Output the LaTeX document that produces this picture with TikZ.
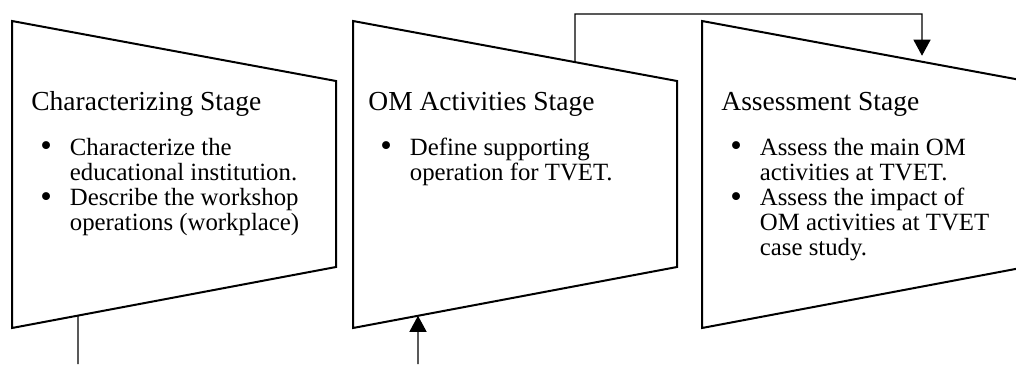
\documentclass[tikz,border=0pt]{standalone}
\usepackage{fontspec}
\setmainfont{Liberation Serif}
\usetikzlibrary{arrows.meta,calc}
\newcommand{\stbullet}{\raisebox{-0.9pt}{\fontsize{16.5}{12}\selectfont\textbullet}}
\begin{document}
\begin{tikzpicture}[x=0.5pt,y=-0.5pt,
  stage/.style={draw=black,line width=1pt,fill=white},
  title/.style={anchor=base west,inner sep=0pt,font=\fontsize{13.75}{12.6}\selectfont},
  points/.style={anchor=base west,inner sep=0pt,font=\fontsize{12.4}{12.6}\selectfont},
  link/.style={draw=black,line width=0.6pt},
  tip/.style={-{Triangle[width=8.5pt,length=8pt]}}]
\useasboundingbox (0,0) rectangle (1016,364);
\clip (0,0) rectangle (1016,364);

% stages
\draw[stage] (12,21) coordinate (s1tl) -- (336,81) coordinate (s1tr) -- (336,267) coordinate (s1br) -- (12,328) coordinate (s1bl) -- cycle;
\draw[stage] (353,21) coordinate (s2tl) -- (677,81) coordinate (s2tr) -- (677,267) coordinate (s2br) -- (353,328) coordinate (s2bl) -- cycle;
\draw[stage] (702,21) coordinate (s3tl) -- (1026,81) coordinate (s3tr) -- (1026,267) coordinate (s3br) -- (702,328) coordinate (s3bl) -- cycle;

% texts
\node[title] (t1) at (31,110) {Characterizing Stage};
\node[points] (p1) at (40,155) {\begin{tabular}[t]{@{}p{14.75pt}@{}l@{}}
\stbullet & Characterize the\\ & educational institution.\\
\stbullet & Describe the workshop\\ & operations (workplace)\end{tabular}};

\node[title] (t2) at (368,110) {OM Activities Stage};
\node[points] (p2) at (380,155) {\begin{tabular}[t]{@{}p{14.75pt}@{}l@{}}
\stbullet & Define supporting\\ & operation for TVET.\end{tabular}};

\node[title] (t3) at (721,110) {Assessment Stage};
\node[points] (p3) at (730,155) {\begin{tabular}[t]{@{}p{14.75pt}@{}l@{}}
\stbullet & Assess the main OM\\ & activities at TVET.\\
\stbullet & Assess the impact of\\ & OM activities at TVET\\ & case study.\end{tabular}};

% links
\coordinate (s1out) at ($(s1bl)!0.2037!(s1br)$);
\coordinate (s2in) at ($(s2bl)!0.2006!(s2br)$);
\coordinate (s2out) at ($(s2tl)!0.6852!(s2tr)$);
\coordinate (s3in) at ($(s3tl)!0.679!(s3tr)$);
\coordinate (foot1) at (78,364);
\coordinate (foot2) at (418,364);
\coordinate (bend) at (922,14);

\draw[link] (s1out) -- (foot1);
\draw[link,tip] (foot2) -- (s2in);
\draw[link,tip,shorten >=3pt] (s2out) |- (bend) -- (s3in);
\end{tikzpicture}
\end{document}
